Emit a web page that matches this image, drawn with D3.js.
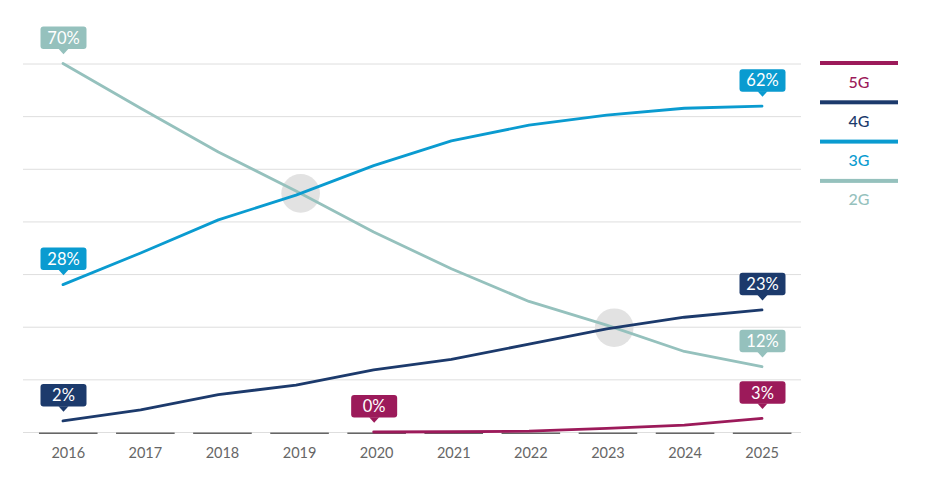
<!DOCTYPE html>
<html><head><meta charset="utf-8">
<script src="https://cdn.jsdelivr.net/npm/d3@7"></script>
<style>body{margin:0;background:#fff;} svg{display:block;font-family:Lato,'Open Sans',sans-serif;}</style>
</head><body><svg id="c" width="934" height="483"></svg>
<script>
const years = ["2016","2017","2018","2019","2020","2021","2022","2023","2024","2025"];
const g2 = [70, 61.5, 53.2, 45.8, 38, 31, 24.8, 20.3, 15.3, 12.4];
const g3 = [28, 34, 40.3, 45, 50.6, 55.3, 58.3, 60.2, 61.5, 61.9];
const g4 = [2.1, 4.2, 7.1, 8.9, 11.8, 13.8, 16.7, 19.6, 21.8, 23.2];
const g5 = [null, null, null, null, 0, 0.05, 0.15, 0.7, 1.3, 2.6];
const seriesNames = ["5G", "4G", "3G", "2G"];
const seriesColors = ["#9c1a5a", "#1c3a6c", "#0a9bd0", "#95c1bd"];
const yTicks = [0, 10, 20, 30, 40, 50, 60, 70];
const crossPairs = [["2G", "3G"], ["2G", "4G"]];

const seriesValues = {"5G": g5, "4G": g4, "3G": g3, "2G": g2};
const color = d3.scaleOrdinal().domain(seriesNames).range(seriesColors);

const svg = d3.select("#c");
const xBand = d3.scaleBand().domain(years).range([29.7, 800.7]).paddingInner(0.24).paddingOuter(0.12);
const x = d3.scalePoint().domain(years).range([63, 762]);
const y = d3.scaleLinear().domain([0, 70]).range([432, 63.5]);

// gridlines
const grid = svg.append("g").attr("transform", "translate(23,0)")
  .call(d3.axisLeft(y).tickValues(yTicks).tickSize(-778).tickFormat(""));
grid.select(".domain").remove();
grid.selectAll("line").attr("stroke", "#dedede").attr("stroke-width", 1);

// x axis
const xa = svg.append("g").attr("transform", "translate(0,432)")
  .call(d3.axisBottom(xBand).tickSize(0).tickPadding(16));
xa.select(".domain").remove();
xa.selectAll("text").attr("font-size", 14.5).attr("fill", "#666").attr("font-family", "Lato,'Open Sans',sans-serif");
svg.append("g").selectAll("line").data(years).join("line")
  .attr("x1", d => xBand(d)).attr("x2", d => xBand(d) + xBand.bandwidth())
  .attr("y1", y(0) + 1.2).attr("y2", y(0) + 1.2)
  .attr("stroke", "#666").attr("stroke-width", 1.5);

// crossing highlights
function crossing(a, b) {
  const A = seriesValues[a], B = seriesValues[b];
  for (let i = 0; i < years.length - 1; i++) {
    if (A[i] == null || B[i] == null || A[i + 1] == null || B[i + 1] == null) continue;
    const d0 = A[i] - B[i], d1 = A[i + 1] - B[i + 1];
    if (d0 === 0) return [x(years[i]), y(A[i])];
    if (d0 * d1 < 0) {
      const t = d0 / (d0 - d1);
      const px = x(years[i]) + t * (x(years[i + 1]) - x(years[i]));
      const py = y(A[i] + t * (A[i + 1] - A[i]));
      return [px, py];
    }
  }
  return null;
}
svg.append("g").selectAll("circle")
  .data(crossPairs.map(p => crossing(p[0], p[1])).filter(Boolean))
  .join("circle").attr("cx", d => d[0]).attr("cy", d => d[1]).attr("r", 19.3).attr("fill", "#e2e2e2");

// lines
const line = d3.line().defined(d => d.v != null).x(d => x(d.year)).y(d => y(d.v));
const drawOrder = ["2G", "3G", "4G", "5G"];
svg.append("g").selectAll("path").data(drawOrder).join("path")
  .attr("d", s => line(years.map((yr, i) => ({year: yr, v: seriesValues[s][i]}))))
  .attr("fill", "none").attr("stroke", s => color(s)).attr("stroke-width", 2.8)
  .attr("stroke-linejoin", "round").attr("stroke-linecap", "round");

// labels on first and last points
const labels = [];
drawOrder.forEach(s => {
  const vals = seriesValues[s];
  const idx = vals.map((v, i) => v != null ? i : -1).filter(i => i >= 0);
  [idx[0], idx[idx.length - 1]].forEach(i => labels.push({s, year: years[i], v: vals[i]}));
});
const lg = svg.append("g").selectAll("g").data(labels).join("g")
  .attr("transform", d => `translate(${x(d.year) + 0.5},${y(d.v)})`);
lg.append("rect").attr("x", -23).attr("y", -37).attr("width", 46).attr("height", 22.5).attr("rx", 3)
  .attr("fill", d => color(d.s));
lg.append("path").attr("d", "M-5,-14.8L0,-9.3L5,-14.8Z").attr("fill", d => color(d.s));
lg.append("text").attr("text-anchor", "middle").attr("y", -25.7).attr("dy", "0.36em")
  .attr("font-size", 16.5).attr("font-weight", 400).attr("fill", "#fff")
  .text(d => Math.round(d.v) + "%");

// legend
const leg = svg.append("g").selectAll("g").data(seriesNames).join("g")
  .attr("transform", (d, i) => `translate(820,${61 + i * 39.3})`);
leg.append("rect").attr("width", 78).attr("height", 4).attr("fill", d => color(d));
leg.append("text").attr("x", 39).attr("y", 20.8).attr("dy", "0.36em").attr("text-anchor", "middle")
  .attr("font-size", 16).attr("font-weight", 500).attr("fill", d => color(d)).text(d => d);
</script>
</body></html>
